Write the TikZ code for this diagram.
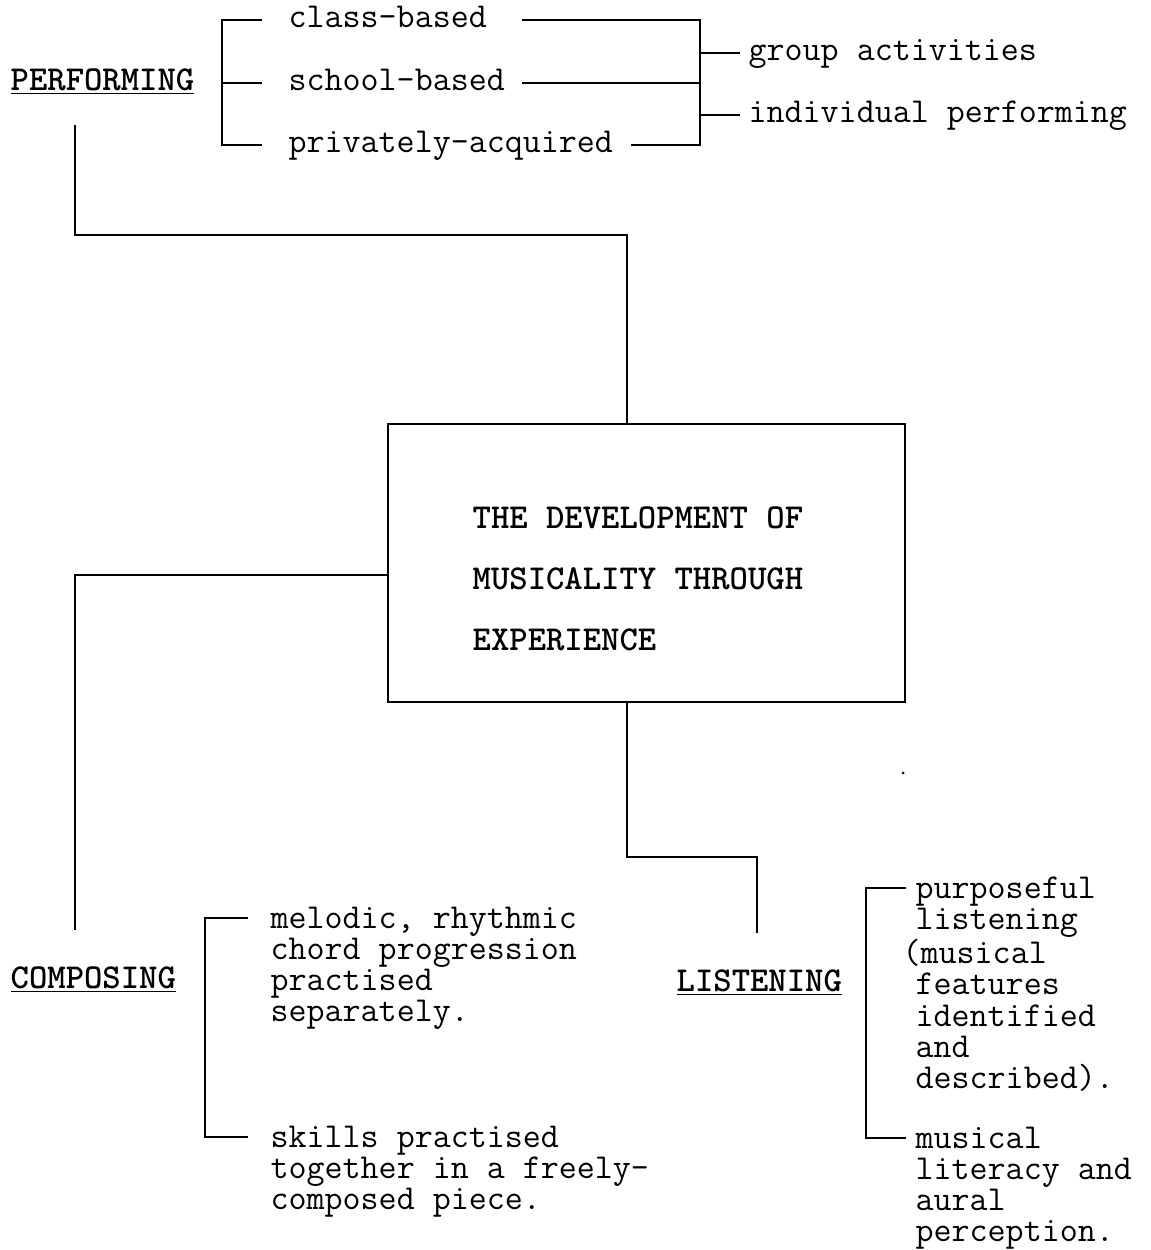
\documentclass[tikz,border=0pt]{standalone}
\usepackage{fontspec}
\usetikzlibrary{calc}
\newcommand{\mfont}{\fontsize{19.9}{17.8}\selectfont\ttfamily}
\newcommand{\tfont}{\fontsize{19.9}{34.7}\selectfont\ttfamily\bfseries}

\begin{document}
\begin{tikzpicture}[x=0.02cm,y=-0.02cm,line width=0.8pt,
  txt/.style={inner sep=0pt,font=\mfont,anchor=base west},
  head/.style={inner sep=0pt,font=\mfont\bfseries,anchor=base west},
  para/.style={inner sep=0pt,font=\mfont,anchor=north west,align=left},
  mainbox/.style={draw,minimum width=10.34cm,minimum height=5.56cm,inner sep=0pt}]
\useasboundingbox (0,0) rectangle (1150,1250);
%----------PERFORMING----------------------------
\node[head] (perf) at (10,91) {\underline{PERFORMING}};
\node[txt] (class) at (288,28) {class-based};
\node[txt] (school) at (288,91) {school-based};
\node[txt] (priv) at (288,153) {privately-acquired};
\node[txt] (group) at (748,61) {group activities};
\node[txt] (indiv) at (748,123) {individual performing};
\draw ($(class.base west)+(-26,-8)$) -- ($(class.base west)+(-66,-8)$)
    |- ($(priv.base west)+(-26,-8)$);
\draw ($(school.base west)+(-66,-8)$) -- ($(school.base west)+(-26,-8)$);
\coordinate (rb) at (700,0);
\draw ($(class.base east)+(35,-8)$) -- ($(class.base east -| rb)+(0,-8)$)
    -- ($(priv.base east -| rb)+(0,-8)$) -- ($(priv.base east)+(17,-8)$);
\draw ($(school.base east)+(17,-8)$) -- ($(school.base east -| rb)+(0,-8)$);
\draw ($(group.base west -| rb)+(0,-8)$) -- ($(group.base west)+(-8,-8)$);
\draw ($(indiv.base west -| rb)+(0,-8)$) -- ($(indiv.base west)+(-8,-8)$);
%----------centre box----------------------------
\node[mainbox] (box) at (646.5,563) {};
\node[para,font=\tfont] (title) at (472,506)
    {THE DEVELOPMENT OF\\MUSICALITY THROUGH\\EXPERIENCE};
%----------COMPOSING-----------------------------
\node[head] (comp) at (10,988) {\underline{COMPOSING}};
\node[para] (mel) at (270,906)
    {melodic, rhythmic\\chord progression\\practised\\separately.};
\node[para] (skills) at (270,1125)
    {skills practised\\together in a freely-\\composed piece.};
\draw ($(mel.north west)+(-22,12)$) -- ($(mel.north west)+(-65,12)$)
    |- ($(skills.north west)+(-22,12)$);
%----------LISTENING-----------------------------
\node[head] (listen) at (676,991) {\underline{LISTENING}};
\node[para] (purp) at (915,876)
    {purposeful\\listening\\\hspace*{-0.26cm}(musical\\features\\identified\\and\\described).};
\node[para] (musi) at (915,1126)
    {musical\\literacy and\\aural\\perception.};
\draw ($(purp.north west)+(-9,12)$) -- ($(purp.north west)+(-49,12)$)
    |- ($(musi.north west)+(-9,12)$);
%----------connectors----------------------------
\coordinate (p1) at ($(perf.base west)+(65,34)$);
\coordinate (p2) at (627,235);
\draw (p1) |- (p2) -- (p2 |- box.north);
\coordinate (c1) at (75,930);
\draw ($(box.west)+(0,12)$) -| (c1);
\coordinate (l1) at (627,857);
\coordinate (l2) at (757,933);
\draw (box.south -| l1) -- (l1) -| (l2);
\fill (903,773) circle (1.5);
\end{tikzpicture}
\end{document}
